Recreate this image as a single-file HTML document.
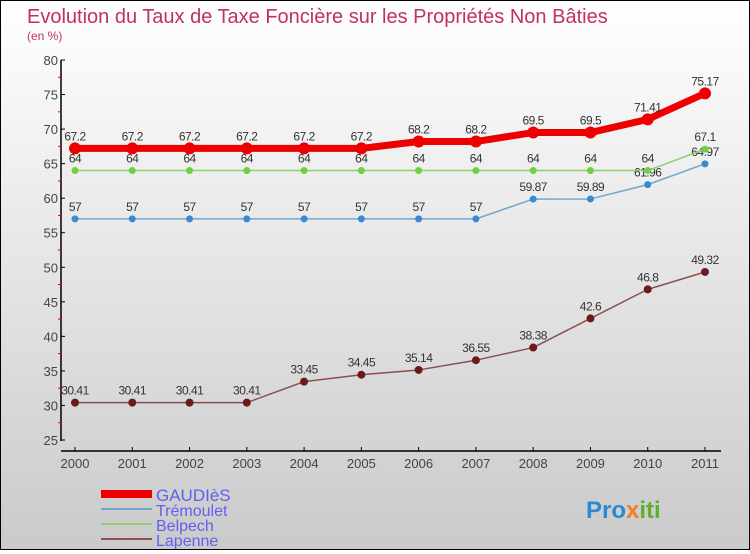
<!DOCTYPE html>
<html><head><meta charset="utf-8"><style>
body{margin:0;width:750px;height:550px;overflow:hidden;font-family:"Liberation Sans",sans-serif}
#c{position:absolute;left:0;top:0;width:748px;height:548px;border:1px solid #000;background:linear-gradient(#fff,#cacaca)}
</style></head><body>
<div id="c">
<svg id="s" width="748" height="548" xmlns="http://www.w3.org/2000/svg">
<text x="26" y="22" font-size="20" fill="#c03060">Evolution du Taux de Taxe Foncière sur les Propriétés Non Bâties</text>
<text x="26" y="39" font-size="12" fill="#c03060">(en %)</text>
<g id="axes"></g><g id="series"></g><g id="legend"></g>
</svg></div>
<script>
const years=[2000,2001,2002,2003,2004,2005,2006,2007,2008,2009,2010,2011];
const yTicks=[25,30,35,40,45,50,55,60,65,70,75,80];
const gaudies=[67.2,67.2,67.2,67.2,67.2,67.2,68.2,68.2,69.5,69.5,71.41,75.17];
const tremoulet=[57,57,57,57,57,57,57,57,59.87,59.89,61.96,64.97];
const belpech=[64,64,64,64,64,64,64,64,64,64,64,67.1];
const lapenne=[30.41,30.41,30.41,30.41,33.45,34.45,35.14,36.55,38.38,42.6,46.8,49.32];
const NS="http://www.w3.org/2000/svg";
const X=i=>74+i*(630/11);
const Y=v=>439-(v-25)*(380/55);
function mk(t,a,p){const e=document.createElementNS(NS,t);for(const k in a)e.setAttribute(k,a[k]);p.appendChild(e);return e;}
const ax=document.getElementById('axes');
let l=mk('line',{x1:60,y1:59,x2:60,y2:440,stroke:'#000','stroke-width':1.5},ax);


l=mk('line',{x1:60,y1:450,x2:720,y2:450,stroke:'#000','stroke-width':1.5},ax);


yTicks.forEach((v,i)=>{
  mk('line',{x1:60,y1:Y(v),x2:64,y2:Y(v),stroke:'#000'},ax);
  if(i<yTicks.length-1) mk('line',{x1:57,y1:Y(v+2.5),x2:60,y2:Y(v+2.5),stroke:'#e00'},ax);
  const t=mk('text',{x:57,y:Y(v)+5,'text-anchor':'end','font-size':13,fill:'#444'},ax);
  
  
  t.textContent=v;
});
years.forEach((y,i)=>{
  mk('line',{x1:X(i),y1:446,x2:X(i),y2:450,stroke:'#000'},ax);
  const t=mk('text',{x:X(i),y:467,'text-anchor':'middle','font-size':13,fill:'#444'},ax);
  
  
  t.textContent=y;
});
const sg=document.getElementById('series');
function series(name,data,color,w,r,dot,labelColor){
  const g=mk('g',{},sg);
  
  
  const p=mk('polyline',{points:data.map((v,i)=>X(i)+','+Y(v)).join(' '),fill:'none',stroke:color,'stroke-width':w,'stroke-linejoin':'round'},g);
  
  
  data.forEach((v,i)=>{
    const c=mk('circle',{cx:X(i),cy:Y(v),r:r,fill:dot},g);
    
    
    const t=mk('text',{x:X(i),y:Y(v)-8,'text-anchor':'middle','font-size':12,fill:labelColor,'letter-spacing':'-0.5'},g);
    
    
    t.textContent=v;
  });
}
series('lapenne',lapenne,'#8a5050',1.5,4,'#6a1a1a','#333');
series('tremoulet',tremoulet,'#6ea8d0',1.5,3.5,'#3a8ad0','#333');
series('belpech',belpech,'#90d070',1.5,3.5,'#70d040','#333');
series('gaudies',gaudies,'#e00',7,6,'#e00','#333');
const lg=document.getElementById('legend');
[['GAUDIèS','#e00',8],['Trémoulet','#6ea8d0',2],['Belpech','#90d070',2],['Lapenne','#8a5050',2]].forEach((d,i)=>{
  const y=493+i*15;
  const g=mk('g',{},lg);
  
  
  mk('line',{x1:100,y1:y,x2:151,y2:y,stroke:d[1],'stroke-width':d[2]},g);
  const t=mk('text',{x:155,y:y+7,'font-size':i==0?17:16,fill:'#6060f0'},g);
  t.textContent=d[0];
});
const lt=mk('text',{x:585,y:517,'font-size':24,'font-weight':'bold',fill:'#2a8ad0'},document.getElementById('s'));


lt.innerHTML='Pro<tspan fill="#f08020">x</tspan><tspan fill="#60b030">iti</tspan>';
</script>
</body></html>
